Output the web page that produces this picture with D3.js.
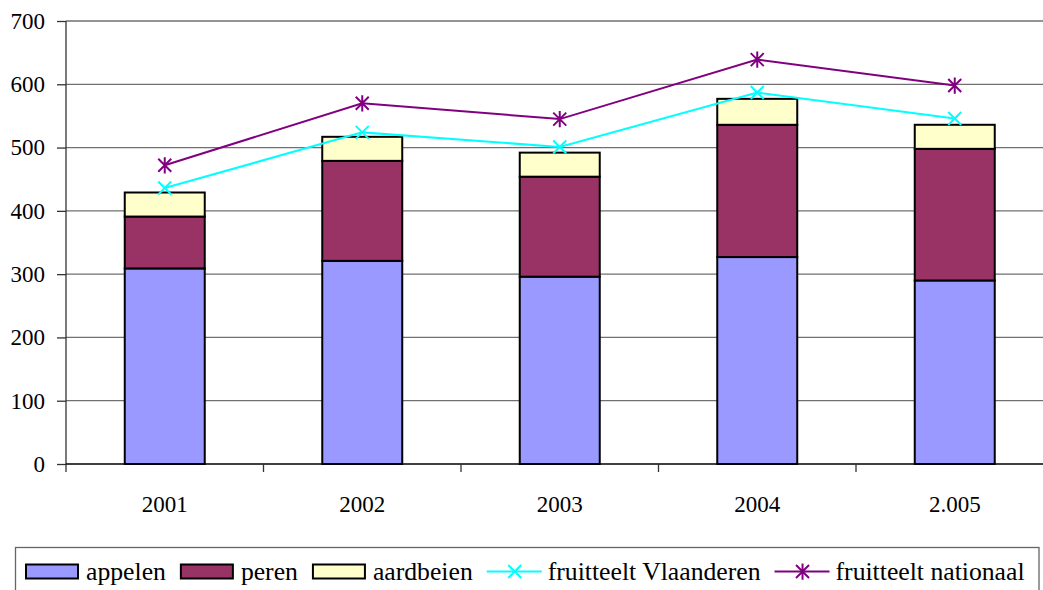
<!DOCTYPE html>
<html>
<head>
<meta charset="utf-8">
<style>
  body { margin: 0; background: #fff; }
  svg text { font-family: 'Liberation Serif', 'DejaVu Serif', serif !important; }
</style>
</head>
<body>
<div id="chart"></div>
<script src="https://d3js.org/d3.v7.min.js"></script>
<script>
// data
const years = ["2001", "2002", "2003", "2004", "2.005"];
const appelen = [309, 321, 296, 327, 290];
const peren = [82, 158, 158, 209, 208];
const aardbeien = [38, 38, 38, 41, 38];
const vlaanderen = [436, 524, 501, 587, 546];
const nationaal = [472, 570, 545, 639, 598];
const yTicks = [0, 100, 200, 300, 400, 500, 600, 700];

const width = 1043, height = 590;
const plotLeft = 66, plotTop = 21, plotBottom = 464, plotRight = 1053.5;

const svg = d3.select("#chart").append("svg")
  .attr("width", width).attr("height", height);

const x = d3.scaleBand().domain(years).range([plotLeft, plotRight])
  .paddingInner(0.595).paddingOuter(0.2975);
const y = d3.scaleLinear().domain([0, 700]).range([plotBottom, plotTop]);

// gridlines
svg.append("g").selectAll("line")
  .data(yTicks.filter(d => d > 0))
  .join("line")
  .attr("x1", plotLeft).attr("x2", width)
  .attr("y1", d => y(d)).attr("y2", d => y(d))
  .attr("stroke", "#707070").attr("stroke-width", 1.3);

// y axis
const yAxis = svg.append("g")
  .attr("transform", `translate(${plotLeft},0)`)
  .call(d3.axisLeft(y).tickValues(yTicks).tickSize(9).tickPadding(12));
yAxis.select(".domain").remove();
yAxis.selectAll(".tick line").attr("stroke", "#333").attr("stroke-width", 1.3);
yAxis.selectAll(".tick text").attr("font-size", 23).attr("fill", "#000");
svg.append("line").attr("x1", plotLeft).attr("x2", plotLeft).attr("y1", plotTop).attr("y2", plotBottom + 8)
  .attr("stroke", "#333").attr("stroke-width", 1.3);

// stacked bars
const series = [
  { name: "appelen", values: appelen, color: "#9999FF" },
  { name: "peren", values: peren, color: "#993366" },
  { name: "aardbeien", values: aardbeien, color: "#FFFFCC" }
];
const rows = years.map((yr, i) => ({ year: yr, appelen: appelen[i], peren: peren[i], aardbeien: aardbeien[i] }));
const stacked = d3.stack().keys(series.map(s => s.name))(rows);

svg.append("g").selectAll("g")
  .data(stacked)
  .join("g")
  .attr("fill", (d, i) => series[i].color)
  .selectAll("rect")
  .data(d => d)
  .join("rect")
  .attr("x", d => x(d.data.year))
  .attr("width", x.bandwidth())
  .attr("y", d => y(d[1]))
  .attr("height", d => y(d[0]) - y(d[1]))
  .attr("stroke", "#000").attr("stroke-width", 2);

// x axis line and ticks at band boundaries
svg.append("line").attr("x1", plotLeft).attr("x2", width).attr("y1", plotBottom).attr("y2", plotBottom)
  .attr("stroke", "#000").attr("stroke-width", 1.5);
svg.append("g").selectAll("line")
  .data(years.slice(1))
  .join("line")
  .attr("x1", d => x(d) - x.step() * x.paddingInner() / 2)
  .attr("x2", d => x(d) - x.step() * x.paddingInner() / 2)
  .attr("y1", plotBottom).attr("y2", plotBottom + 8)
  .attr("stroke", "#333").attr("stroke-width", 1.3);
svg.append("g").selectAll("text")
  .data(years)
  .join("text")
  .attr("x", d => x(d) + x.bandwidth() / 2)
  .attr("y", 512)
  .attr("text-anchor", "middle")
  .attr("font-size", 23)
  .text(d => d);

// lines
const lines = [
  { name: "fruitteelt Vlaanderen", values: vlaanderen, color: "#00FFFF", marker: "x" },
  { name: "fruitteelt nationaal", values: nationaal, color: "#800080", marker: "star" }
];
const line = d3.line().x((d, i) => x(years[i]) + x.bandwidth() / 2).y(d => y(d));

function markerPath(m, s) {
  let p = `M${-s},${-s}L${s},${s}M${-s},${s}L${s},${-s}`;
  if (m === "star") p += `M0,${-s * 1.25}L0,${s * 1.25}`;
  return p;
}

lines.forEach(l => {
  svg.append("path").datum(l.values)
    .attr("d", line).attr("fill", "none")
    .attr("stroke", l.color).attr("stroke-width", 2);
  svg.append("g").selectAll("path")
    .data(l.values)
    .join("path")
    .attr("transform", (d, i) => `translate(${x(years[i]) + x.bandwidth() / 2},${y(d)})`)
    .attr("d", markerPath(l.marker, 6.5))
    .attr("stroke", l.color).attr("stroke-width", 2).attr("fill", "none");
});

// legend
const legend = svg.append("g");
legend.append("rect").attr("x", 15.5).attr("y", 547.5).attr("width", 1023.5).attr("height", 60)
  .attr("fill", "#fff").attr("stroke", "#666").attr("stroke-width", 1.3);

const items = series.map(s => ({ name: s.name, color: s.color, type: "box" }))
  .concat(lines.map(l => ({ name: l.name, color: l.color, type: "line", marker: l.marker })));
let cx = 26;
items.forEach(it => {
  const g = legend.append("g");
  if (it.type === "box") {
    g.append("rect").attr("x", cx).attr("y", 564.5).attr("width", 52).attr("height", 14)
      .attr("fill", it.color).attr("stroke", "#000").attr("stroke-width", 2);
  } else {
    g.append("line").attr("x1", cx - 1).attr("x2", cx + 54).attr("y1", 571.5).attr("y2", 571.5)
      .attr("stroke", it.color).attr("stroke-width", 2);
    g.append("path").attr("transform", `translate(${cx + 27},571.5)`)
      .attr("d", markerPath(it.marker, 6.5))
      .attr("stroke", it.color).attr("stroke-width", 2).attr("fill", "none");
  }
  const t = g.append("text").attr("x", cx + 60).attr("y", 580)
    .attr("font-size", 25.7).text(it.name);
  cx += 60 + t.node().getComputedTextLength() + 15;
});
</script>
</body>
</html>
